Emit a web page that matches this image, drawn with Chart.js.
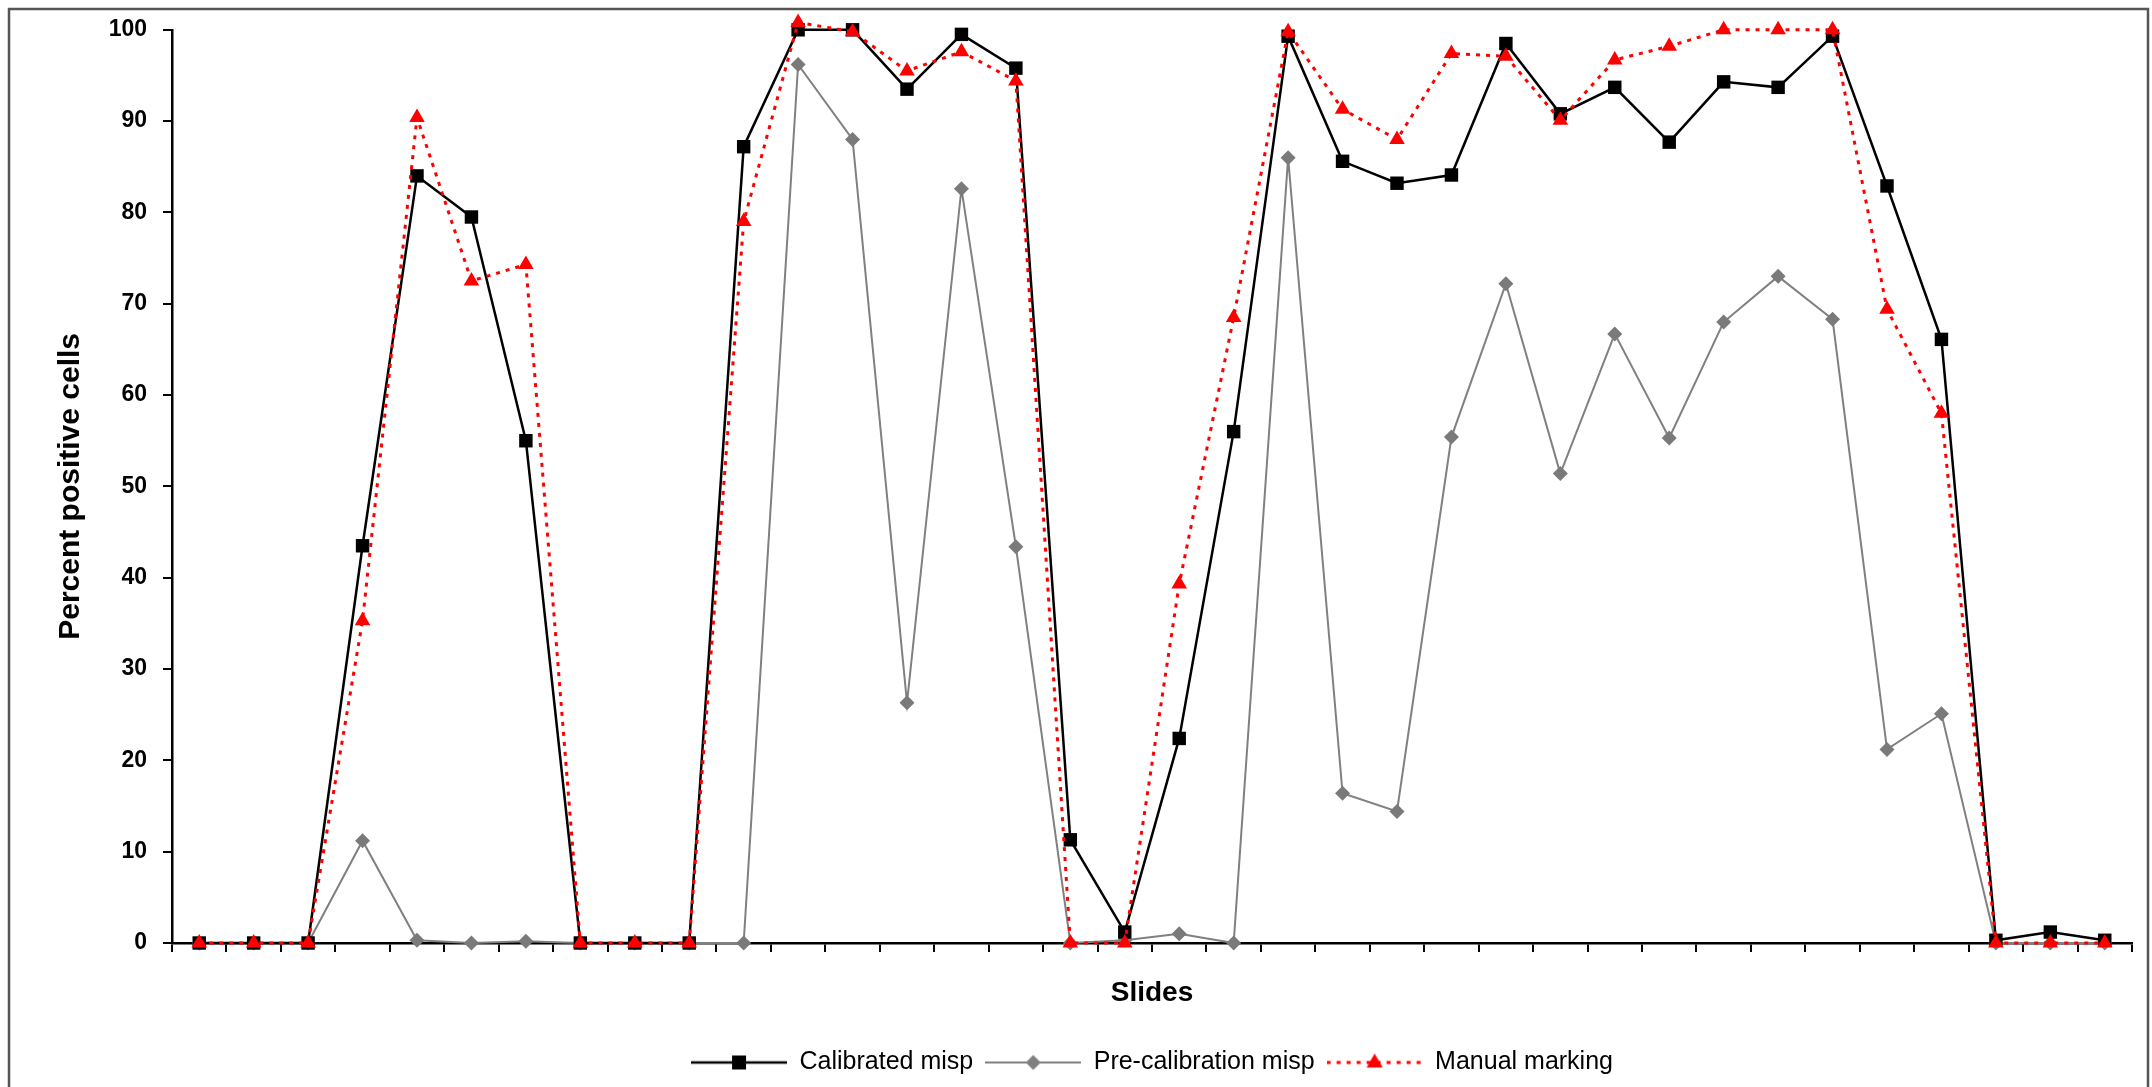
<!DOCTYPE html>
<html>
<head>
<meta charset="utf-8">
<script src="https://cdn.jsdelivr.net/npm/chart.js@4.4.0/dist/chart.umd.min.js"></script>
<style>
  html, body { margin: 0; padding: 0; background: #fff; }
  #wrap { width: 2152px; height: 1087px; }
</style>
</head>
<body>
<div id="wrap"><canvas id="grafico" width="2152" height="1087"></canvas></div>
<script>
// slides (categorias do eixo x)
const slides = [1, 2, 3, 4, 5, 6, 7, 8, 9, 10, 11, 12, 13, 14, 15, 16, 17, 18,
  19, 20, 21, 22, 23, 24, 25, 26, 27, 28, 29, 30, 31, 32, 33, 34, 35, 36]

// percentuais
const calibrated = [0, 0, 0, 43.5, 84, 79.5, 55, 0, 0, 0, 87.2, 100, 100, 93.5, 99.5, 95.8,
  11.3, 1.2, 22.4, 56, 99.3, 85.6, 83.2, 84.1, 98.5, 90.8, 93.7, 87.7, 94.3, 93.7, 99.3,
  82.9, 66.1, 0.3, 1.2, 0.3]
const preCalibration = [0, 0, 0, 11.2, 0.3, 0, 0.2, 0, 0, 0, 0, 96.2, 88, 26.3, 82.6, 43.4,
  0, 0.3, 1.0, 0, 86, 16.4, 14.4, 55.4, 72.2, 51.4, 66.7, 55.3, 68, 73, 68.3,
  21.2, 25.1, 0, 0, 0]
const manual = [0, 0, 0, 35.3, 90.4, 72.5, 74.3, 0, 0, 0, 79, 100.8, 99.8, 95.5, 97.6, 94.4,
  0, 0, 39.3, 68.5, 99.8, 91.3, 88, 97.4, 97.1, 90.1, 96.7, 98.2, 100, 100, 100,
  69.4, 58, 0, 0, 0]

const yTicks = [0, 10, 20, 30, 40, 50, 60, 70, 80, 90, 100]

const FONT = "'Liberation Sans', Arial, sans-serif"

// desenha o marcador no contexto
function marker(ctx, kind, x, y) {
  ctx.beginPath()
  if (kind === 'rect') {
    ctx.rect(x - 7, y - 7, 14, 14)
  } else if (kind === 'diamond') {
    ctx.moveTo(x, y - 7.5); ctx.lineTo(x + 7.5, y); ctx.lineTo(x, y + 7.5); ctx.lineTo(x - 7.5, y)
    ctx.closePath()
  } else {
    ctx.moveTo(x, y - 9); ctx.lineTo(x + 8, y + 5); ctx.lineTo(x - 8, y + 5)
    ctx.closePath()
  }
  ctx.fill()
}

// imagem da legenda: linha + marcador
function legendImage(color, width, dash, kind) {
  const c = document.createElement('canvas')
  c.width = 96
  c.height = 24
  const ctx = c.getContext('2d')
  ctx.strokeStyle = color
  ctx.fillStyle = color
  ctx.lineWidth = width
  ctx.setLineDash(dash)
  ctx.beginPath()
  ctx.moveTo(0, 12)
  ctx.lineTo(96, 12)
  ctx.stroke()
  ctx.setLineDash([])
  marker(ctx, kind, 48, 12)
  return c
}

const legendImages = [
  legendImage('#000000', 2.5, [], 'rect'),
  legendImage('#808080', 2, [], 'diamond'),
  legendImage('#ff0000', 3, [4, 6], 'triangle')
]

const framePlugin = {
  id: 'moldura',
  beforeDraw(chart) {
    const ctx = chart.ctx
    ctx.save()
    ctx.fillStyle = '#ffffff'
    ctx.fillRect(0, 0, chart.width, chart.height)
    ctx.strokeStyle = '#555555'
    ctx.lineWidth = 2.5
    ctx.strokeRect(9, 9, 2139, 1100)
    ctx.restore()
  }
}

const ctx = document.getElementById('grafico').getContext('2d')

new Chart(ctx, {
  type: 'line',
  data: {
    labels: slides,
    datasets: [
      {
        label: 'Calibrated misp',
        data: calibrated,
        borderColor: '#000000',
        backgroundColor: '#000000',
        borderWidth: 2.5,
        pointStyle: 'rect',
        pointRadius: 9.5,
        pointBorderWidth: 0,
        tension: 0,
        clip: false,
        order: 2
      },
      {
        label: 'Pre-calibration misp',
        data: preCalibration,
        borderColor: '#808080',
        backgroundColor: '#7a7a7a',
        borderWidth: 2,
        pointStyle: 'rectRot',
        pointRadius: 7.5,
        pointBorderWidth: 0,
        tension: 0,
        clip: false,
        order: 3
      },
      {
        label: 'Manual marking',
        data: manual,
        borderColor: '#ff0000',
        backgroundColor: '#ff0000',
        borderWidth: 3,
        borderDash: [4, 6],
        pointStyle: 'triangle',
        pointRadius: 9,
        pointBorderWidth: 0,
        tension: 0,
        clip: false,
        order: 1
      }
    ]
  },
  options: {
    responsive: false,
    animation: false,
    layout: {
      padding: { left: 20, right: 20, top: 29, bottom: 2 }
    },
    plugins: {
      tooltip: { enabled: false },
      legend: {
        position: 'bottom',
        fullSize: false,
        labels: {
          font: { family: FONT, size: 25 },
          color: '#000000',
          usePointStyle: true,
          pointStyleWidth: 96,
          padding: 12,
          generateLabels(chart) {
            return chart.data.datasets.map((ds, i) => ({
              text: ds.label,
              pointStyle: legendImages[i],
              fillStyle: ds.borderColor,
              strokeStyle: ds.borderColor,
              lineWidth: 0,
              fontColor: '#000000',
              hidden: !chart.isDatasetVisible(i),
              datasetIndex: i
            }))
          }
        }
      }
    },
    scales: {
      x: {
        type: 'category',
        offset: true,
        grid: {
          offset: true,
          drawOnChartArea: false,
          drawTicks: true,
          tickLength: 9,
          color: '#000000',
          lineWidth: 2
        },
        border: { display: true, color: '#000000', width: 2.5 },
        ticks: { display: false, autoSkip: false },
        title: {
          display: true,
          text: 'Slides',
          color: '#000000',
          font: { family: FONT, size: 28, weight: 'bold' },
          padding: { top: 0, bottom: 28 }
        },
        afterFit(scale) { scale.height = 95 }
      },
      y: {
        min: 0,
        max: 100,
        afterBuildTicks(scale) {
          scale.ticks = yTicks.map(v => ({ value: v }))
        },
        grid: {
          drawOnChartArea: false,
          drawTicks: true,
          tickLength: 9,
          color: '#000000',
          lineWidth: 2
        },
        border: { display: true, color: '#000000', width: 2.5 },
        ticks: {
          color: '#000000',
          padding: 16,
          font: { family: FONT, size: 23, weight: 'bold' }
        },
        title: {
          display: true,
          text: 'Percent positive cells',
          color: '#000000',
          font: { family: FONT, size: 30, weight: 'bold' },
          padding: { top: 33, bottom: 0 }
        },
        afterFit(scale) { scale.width = 152 }
      }
    }
  },
  plugins: [framePlugin]
})
</script>
</body>
</html>
